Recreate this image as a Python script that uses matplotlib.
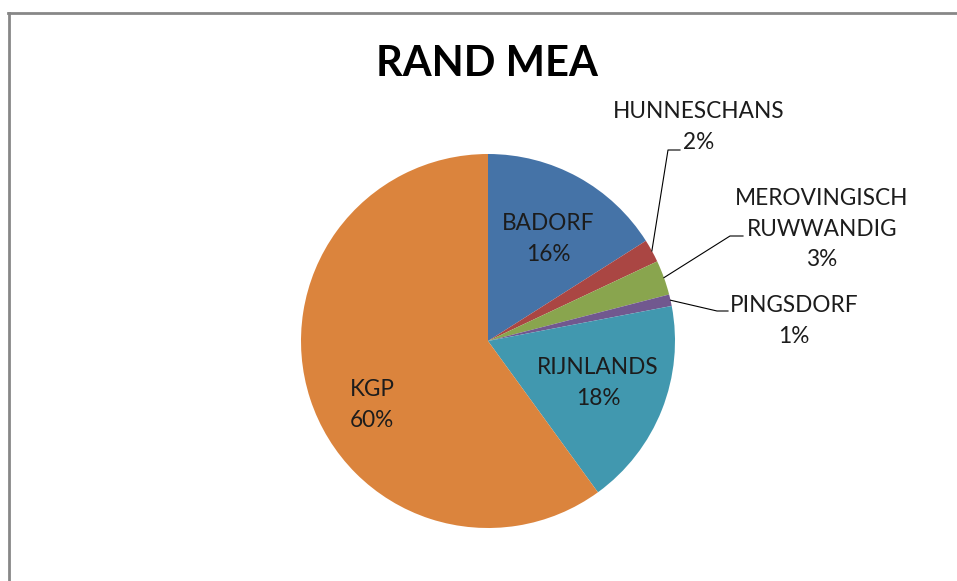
import matplotlib.pyplot as plt
import numpy as np

plt.rcParams['font.family'] = ['Lato', 'DejaVu Sans']

categories = ['BADORF', 'HUNNESCHANS', 'MEROVINGISCH\nRUWWANDIG', 'PINGSDORF', 'RIJNLANDS', 'KGP']
values = [16, 2, 3, 1, 18, 60]
colors = ['#4573A7', '#AA4643', '#89A54E', '#71588F', '#4198AF', '#DB843D']

W, H = 957, 581
fig = plt.figure(figsize=(W / 100, H / 100), dpi=100)

# outer chart frame (only top and left edges are in view)
frame = dict(color='#878787', linewidth=2, transform=fig.transFigure)
fig.add_artist(plt.Line2D([9 / W, 9 / W], [0, 1 - 12.5 / H], **frame))
fig.add_artist(plt.Line2D([8 / W, 1], [1 - 12.5 / H, 1 - 12.5 / H], **frame))

cx, cy, r = 488, 341, 187
ax = fig.add_axes([(cx - r) / W, (H - cy - r) / H, 2 * r / W, 2 * r / H])
ax.axis('off')

wedges, _ = ax.pie(values, colors=colors, startangle=90, counterclock=False, radius=1,
                   wedgeprops=dict(linewidth=0), frame=False)
ax.set_xlim(-1, 1)
ax.set_ylim(-1, 1)

def px(x, y):
    return (x - cx) / r, (cy - y) / r

fs = 16.3
ls = 1.55
tc = '#1c1c1c'
labels = [f'{c}\n{v}%' for c, v in zip(categories, values)]

# labels inside the larger slices
inside = {0: (548, 239), 4: (598, 383), 5: (372, 405)}
for i, (x, y) in inside.items():
    ax.text(*px(x, y), labels[i], ha='center', va='center', fontsize=fs,
            color=tc, linespacing=ls)

# labels outside the small slices, with leader lines
outside = {1: ((699, 127), [(668, 150), (680, 150)]),
           2: ((822, 229), [(730, 236), (743, 236)]),
           3: ((794, 321), [(717, 311), (728, 311)])}
cum = np.cumsum([0] + values)
for i, ((x, y), bend) in outside.items():
    ax.text(*px(x, y), labels[i], ha='center', va='center', fontsize=fs,
            color=tc, linespacing=ls)
    ang = np.deg2rad(90 - (cum[i] + values[i] / 2) / 100 * 360)
    pts = [(np.cos(ang), np.sin(ang))] + [px(bx, by) for bx, by in bend]
    xs, ys = zip(*pts)
    ax.plot(xs, ys, color='black', linewidth=0.8, clip_on=False)

fig.text(487 / W, 1 - 64 / H, 'RAND MEA', ha='center', va='center',
         fontsize=30, fontweight='bold')

fig.savefig('out.png', dpi=100)
